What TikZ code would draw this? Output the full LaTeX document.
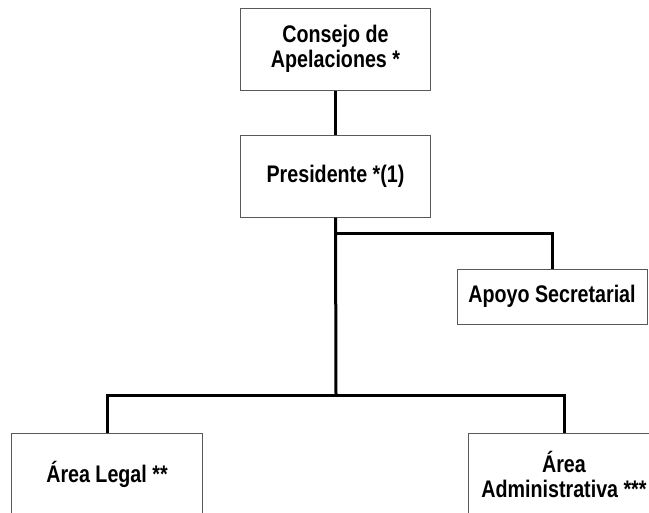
\documentclass[tikz,border=0pt]{standalone}
\usepackage{fontspec}
\setmainfont{Liberation Sans}[FakeStretch=0.82]
\usepackage{tikz}
\usetikzlibrary{positioning}
\tikzstyle{unit} = [rectangle, draw=black!65, line width=0.75pt, text centered, align=center, font=\fontsize{18}{18.75}\selectfont\bfseries, minimum width=143pt, minimum height=61.5pt, inner sep=0pt]
\tikzstyle{small unit} = [unit, minimum width=142.5pt, minimum height=41.25pt]
\tikzstyle{link} = [line width=2.25pt]

\begin{document}
\begin{tikzpicture}[x=0.75pt, y=-0.75pt]
        \useasboundingbox (0,0) rectangle (649,512);
        \clip (0,0) rectangle (649,512);
        \node (council) [unit] at (335.5,49) {Consejo de\\Apelaciones *};
        \node (president) [unit] at (335.5,176) {Presidente *(1)};
        \node (secretary) [small unit] at (552,296.5) {Apoyo Secretarial};
        \node (legal) [unit] at (107,474) {\'Area Legal **};
        \node (admin) [unit] at (564,474) {\'Area\\Administrativa ***};
        \coordinate (fork) at (336,233);
        \coordinate (bus) at (336,395);
        \draw [link] (council) -- (president);
        \draw [link] (president.south) -- (bus);
        \draw [link] (fork) -| (secretary.north);
        \draw [link] (legal.north) |- (bus) -| (admin.north);
    \end{tikzpicture}
\end{document}
